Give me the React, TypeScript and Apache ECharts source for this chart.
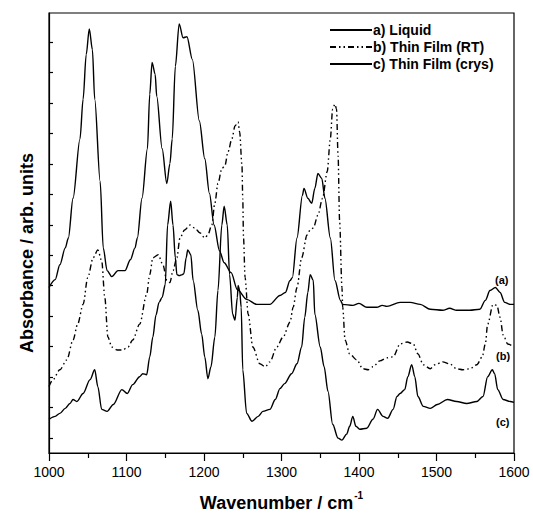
import React, { useEffect, useRef } from "react";
import * as echarts from "echarts";

// Wavenumber (cm-1) / absorbance (arb. units, offset traces)
const liquid: [number, number][] = [
  [1000,167],[1008,175],[1014,190],[1021,207],[1025,217],[1031,257],[1040,317],[1044,357],[1048,402],[1052,428],
  [1056,407],[1059,357],[1066,274],[1070,207],[1075,184],[1081,178],[1089,184],[1098,184],[1105,195],[1111,207],
  [1114,217],[1120,257],[1127,307],[1130,362],[1133,394],[1137,382],[1139,360],[1146,307],[1152,272],[1156,292],
  [1159,317],[1163,390],[1168,433],[1173,419],[1178,420],[1185,397],[1194,335],[1201,297],[1207,262],[1213,230],
  [1220,204],[1226,192],[1235,182],[1243,165],[1255,155],[1268,150],[1272,150],[1285,150],[1298,159],[1305,162],
  [1311,174],[1314,177],[1320,217],[1327,260],[1329,267],[1334,257],[1339,252],[1343,267],[1347,282],[1352,277],
  [1356,257],[1363,217],[1369,174],[1376,154],[1379,150],[1392,149],[1400,151],[1410,147],[1423,147],[1430,149],[1436,148],
  [1453,152],[1466,152],[1479,150],[1492,145],[1508,144],[1517,146],[1526,144],[1543,144],[1556,145],[1563,154],[1569,164],
  [1576,167],[1582,162],[1588,152],[1595,150],[1600,150],
];

const thinFilmRT: [number, number][] = [
  [1000,67],[1005,74],[1014,84],[1023,94],[1031,114],[1037,130],[1044,150],[1050,177],[1057,197],[1063,205],
  [1068,194],[1072,157],[1076,117],[1081,107],[1088,104],[1095,104],[1102,107],[1108,114],[1117,130],[1126,160],
  [1130,180],[1134,197],[1141,200],[1147,190],[1152,174],[1156,172],[1160,184],[1165,197],[1169,217],[1175,225],
  [1182,230],[1188,227],[1195,222],[1201,217],[1205,220],[1210,230],[1214,252],[1218,272],[1223,287],[1227,290],
  [1231,304],[1236,317],[1240,330],[1244,334],[1246,324],[1249,290],[1250,257],[1251,217],[1253,177],[1257,140],
  [1263,107],[1272,90],[1279,87],[1285,92],[1294,107],[1302,117],[1311,132],[1315,147],[1320,167],[1326,197],
  [1333,220],[1337,225],[1341,227],[1347,240],[1353,257],[1359,284],[1363,317],[1366,347],[1369,352],[1371,347],
  [1373,300],[1375,234],[1378,167],[1379,147],[1382,114],[1388,100],[1397,94],[1405,85],[1412,84],[1418,87],
  [1427,93],[1436,96],[1444,97],[1453,110],[1462,112],[1470,110],[1476,100],[1483,89],[1492,85],[1498,89],
  [1508,92],[1517,90],[1526,85],[1534,84],[1543,85],[1552,89],[1559,97],[1563,110],[1566,130],[1573,150],
  [1578,149],[1582,137],[1586,119],[1592,110],[1600,107],
];

const thinFilmCrys: [number, number][] = [
  [1000,34],[1008,37],[1014,40],[1021,45],[1027,50],[1031,54],[1036,52],[1044,60],[1053,74],[1059,84],
  [1063,67],[1068,44],[1075,42],[1083,49],[1094,64],[1101,60],[1108,69],[1117,77],[1121,80],[1126,79],
  [1130,97],[1134,117],[1138,139],[1142,152],[1146,157],[1150,170],[1153,230],[1157,254],[1160,230],[1163,197],
  [1165,180],[1168,179],[1172,180],[1174,181],[1177,197],[1179,205],[1183,200],[1186,174],[1192,144],[1197,120],
  [1201,97],[1205,75],[1209,87],[1214,117],[1218,164],[1223,230],[1226,249],[1230,230],[1233,180],[1237,140],
  [1240,134],[1243,157],[1244,169],[1246,164],[1248,147],[1250,84],[1255,40],[1262,32],[1270,37],[1276,42],
  [1285,44],[1292,54],[1298,65],[1304,70],[1313,80],[1320,90],[1326,107],[1330,137],[1334,162],[1337,180],
  [1341,174],[1343,140],[1350,107],[1355,87],[1360,62],[1366,29],[1373,15],[1378,13],[1384,19],[1388,27],
  [1392,37],[1396,27],[1401,24],[1410,25],[1418,34],[1424,44],[1431,37],[1437,35],[1444,44],[1449,57],
  [1453,60],[1459,64],[1463,77],[1468,89],[1472,77],[1476,57],[1483,47],[1492,45],[1501,49],[1514,54],
  [1526,52],[1539,50],[1552,52],[1560,57],[1566,77],[1572,84],[1575,80],[1579,64],[1586,54],[1595,52],[1600,51],
];

const seriesNames = ["a) Liquid", "b) Thin Film (RT)", "c) Thin Film (crys)"];
const traceLabels = ["(a)", "(b)", "(c)"];
const xTicks = { min: 1000, max: 1600, step: 100 };

export default function App() {
  const ref = useRef<HTMLDivElement>(null);
  useEffect(() => {
    if (!ref.current) return;
    const chart = echarts.init(ref.current, undefined, { renderer: "svg" });
    const font = "'Liberation Sans', Arial, Helvetica, sans-serif";
    const line = (name: string, data: [number, number][], type: any) => ({
      name,
      type: "line",
      data,
      symbol: "none",
      smooth: 0.3,
      smoothMonotone: "x",
      lineStyle: { color: "#000", width: 1.4, type },
      itemStyle: { color: "#000" },
    });
    chart.setOption({
      animation: false,
      backgroundColor: "#fff",
      textStyle: { fontFamily: font },
      grid: { left: 49, top: 13, right: 19, bottom: 60, show: true, borderColor: "#000", borderWidth: 1.2, backgroundColor: "transparent" },
      legend: {
        orient: "vertical",
        left: 324,
        top: 18,
        itemWidth: 42,
        itemHeight: 14,
        itemGap: 3,
        data: seriesNames,
        itemStyle: { opacity: 0 },
        textStyle: { fontFamily: font, fontWeight: "bold", fontSize: 14, color: "#000", padding: [0, 0, 0, -4] },
      },
      xAxis: {
        type: "value",
        min: xTicks.min,
        max: xTicks.max,
        interval: xTicks.step,
        axisLine: { show: true, lineStyle: { color: "#000", width: 1.2 } },
        axisTick: { show: true, length: 8, lineStyle: { color: "#000", width: 1.2 } },
        minorTick: { show: true, splitNumber: 2, length: 5, lineStyle: { color: "#000", width: 1.2 } },
        splitLine: { show: false },
        axisLabel: { color: "#000", fontSize: 14, margin: 12, fontFamily: font, formatter: (v: number) => String(v) },
        name: "{m|Wavenumber / cm}{s|-1}",
        nameLocation: "middle",
        nameGap: 37,
        nameTextStyle: {
          rich: {
            m: { fontFamily: font, fontWeight: "bold", fontSize: 18, color: "#000", lineHeight: 22, verticalAlign: "bottom" },
            s: { fontFamily: font, fontWeight: "bold", fontSize: 10, color: "#000", lineHeight: 22, verticalAlign: "top", padding: [0, 0, 0, 1] },
          },
        },
      },
      yAxis: {
        type: "value",
        min: 0,
        max: 444,
        interval: 30.7,
        axisLine: { show: true, lineStyle: { color: "#000", width: 1.2 } },
        axisTick: { show: false, inside: true },
        minorTick: { show: true, splitNumber: 2, length: 4, lineStyle: { color: "#000", width: 1.2 } },
        splitLine: { show: false },
        axisLabel: { show: false },
        name: "Absorbance / arb. units",
        nameLocation: "middle",
        nameGap: 13,
        nameTextStyle: { fontFamily: font, fontWeight: "bold", fontSize: 18, color: "#000", padding: [0, 40, 0, 0] },
      },
      graphic: [
        { type: "text", left: 495, top: 274, style: { text: traceLabels[0], font: `bold 11px ${font}`, fill: "#000" } },
        { type: "text", left: 496, top: 350, style: { text: traceLabels[1], font: `bold 11px ${font}`, fill: "#000" } },
        { type: "text", left: 496, top: 416, style: { text: traceLabels[2], font: `bold 11px ${font}`, fill: "#000" } },
      ],
      series: [
        line(seriesNames[0], liquid, "solid"),
        line(seriesNames[1], thinFilmRT, [6, 3, 1.5, 3, 1.5, 3]),
        line(seriesNames[2], thinFilmCrys, "solid"),
      ],
    });
    return () => chart.dispose();
  }, []);
  return <div ref={ref} style={{ position: "fixed", left: 0, top: 0, width: 533, height: 517 }} />;
}
